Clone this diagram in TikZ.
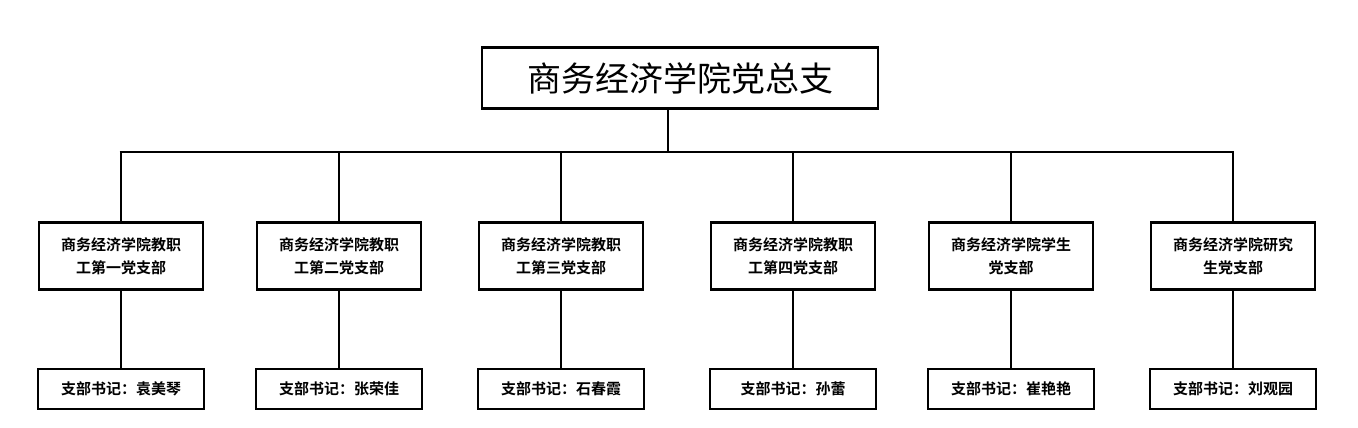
\documentclass[tikz,border=0pt]{standalone}
\usepackage{fontspec}
\setmainfont{Noto Sans CJK SC}[BoldFont={* Bold}]
\usetikzlibrary{positioning}
\tikzset{
	x=1pt, y=-1pt,
	box/.style={draw, line width=2.8pt, inner sep=0pt, align=center},
	dept/.style={box, minimum width=164pt, minimum height=67pt, font=\bfseries\fontsize{15pt}{23pt}\selectfont, text width=150pt},
	sec/.style={box, minimum width=166pt, minimum height=40pt, font=\bfseries\fontsize{15pt}{18pt}\selectfont},
	link/.style={line width=2.8pt}
}
\begin{document}
\begin{tikzpicture}
	\useasboundingbox (0,0) rectangle (1358,428);
	\node[box, minimum width=396pt, minimum height=61pt, font=\fontsize{34pt}{40pt}\selectfont]
		(top) at (680,78) {商务经济学院党总支};
	\coordinate (bus) at (668,152);
	% branches
	\foreach \n/\x/\name/\head in {
		a/121/{商务经济学院教职\\工第一党支部}/{支部书记：袁美琴},
		b/339/{商务经济学院教职\\工第二党支部}/{支部书记：张荣佳},
		c/561/{商务经济学院教职\\工第三党支部}/{支部书记：石春霞},
		d/793/{商务经济学院教职\\工第四党支部}/{支部书记：孙蕾},
		e/1011/{商务经济学院学生\\党支部}/{支部书记：崔艳艳},
		f/1233/{商务经济学院研究\\生党支部}/{支部书记：刘观园}}{
		\node[dept] (\n) at (\x,256) {\name};
		\node[sec] (\n s) at (\x,389) {\head};
		\coordinate (\n t) at (\x,152);
		\draw[link] (\n t) -- (\n);
		\draw[link] (\n) -- (\n s);
	}
	\draw[link] (top.south -| bus) -- (bus);
	\draw[link] ([xshift=-1.4pt]at) -- ([xshift=1.4pt]ft);
\end{tikzpicture}
\end{document}
